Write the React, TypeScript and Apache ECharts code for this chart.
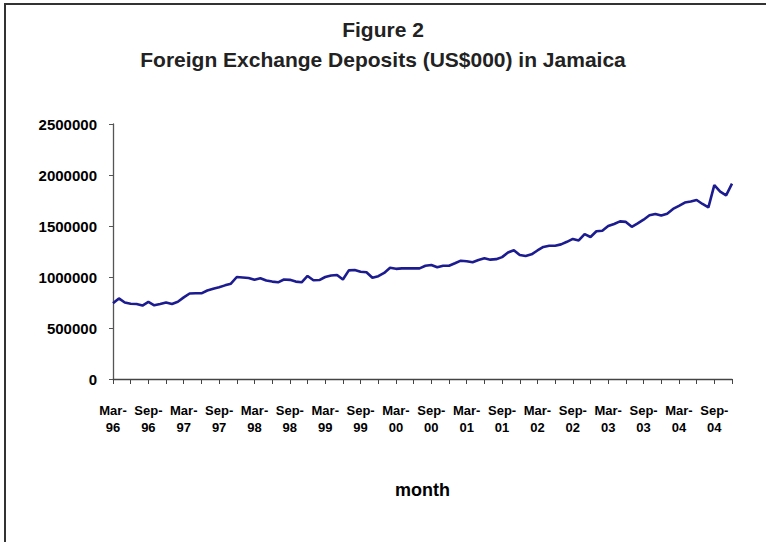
import React, { useEffect, useRef } from "react";
import * as echarts from "echarts";

const monthNames = ["Mar", "Apr", "May", "Jun", "Jul", "Aug", "Sep", "Oct", "Nov", "Dec", "Jan", "Feb"];
const startYear = 1996;
const monthCount = 106; // Mar-96 .. Dec-04

const categories: string[] = [];
for (let i = 0; i < monthCount; i++) {
  const m = monthNames[i % 12];
  const yr = startYear + Math.floor((i + 2) / 12);
  categories.push(m + "-\n" + String(yr % 100).padStart(2, "0"));
}

// Foreign exchange deposits, US$000
const deposits: number[] = [
  742000, 790000, 750000, 738000, 735000, 720000, 756000, 722000, 735000, 750000,
  736000, 757000, 800000, 838000, 840000, 840000, 868000, 885000, 899000, 918000,
  935000, 1000000, 995000, 990000, 973000, 987000, 965000, 955000, 948000, 975000,
  972000, 955000, 948000, 1010000, 968000, 970000, 1000000, 1015000, 1020000, 975000,
  1065000, 1069000, 1052000, 1046000, 992000, 1008000, 1040000, 1090000, 1080000, 1085000,
  1085000, 1085000, 1085000, 1110000, 1118000, 1095000, 1110000, 1111000, 1135000, 1160000,
  1155000, 1145000, 1167000, 1183000, 1170000, 1175000, 1195000, 1240000, 1262000, 1215000,
  1206000, 1222000, 1260000, 1295000, 1307000, 1307000, 1320000, 1345000, 1373000, 1358000,
  1420000, 1392000, 1448000, 1454000, 1500000, 1520000, 1545000, 1540000, 1492000, 1525000,
  1562000, 1605000, 1618000, 1602000, 1620000, 1667000, 1697000, 1730000, 1740000, 1755000,
  1716000, 1683000, 1900000, 1836000, 1800000, 1915000,
];

const titleLines = ["Figure 2", "Foreign Exchange Deposits (US$000) in Jamaica"];
const xAxisName = "month";

const labelFont = "'Liberation Sans', Arial, sans-serif";

export default function App() {
  const ref = useRef<HTMLDivElement>(null);
  useEffect(() => {
    if (!ref.current) return;
    const chart = echarts.init(ref.current, null, { renderer: "svg" });
    chart.setOption({
      animation: false,
      backgroundColor: "#ffffff",
      title: {
        text: titleLines.join("\n"),
        left: "center",
        top: 9,
        textStyle: {
          fontFamily: "'Liberation Sans', Arial, sans-serif",
          fontWeight: "bold",
          fontSize: 21,
          lineHeight: 30,
          color: "#222",
        },
      },
      graphic: [
        { type: "line", shape: { x1: 5, y1: 4, x2: 5, y2: 542 }, style: { stroke: "#333", lineWidth: 2 } },
        { type: "line", shape: { x1: 4, y1: 4, x2: 766, y2: 4 }, style: { stroke: "#333", lineWidth: 2 } },
      ],
      grid: { left: 113, right: 34, top: 124, bottom: 163, containLabel: false },
      xAxis: {
        type: "category",
        data: categories,
        boundaryGap: false,
        name: xAxisName,
        nameLocation: "middle",
        nameGap: 102,
        nameTextStyle: { fontFamily: labelFont, fontWeight: "bold", fontSize: 18, color: "#000" },
        axisLine: { lineStyle: { color: "#444", width: 1.3 } },
        axisTick: { interval: 2, length: 5, lineStyle: { color: "#444" } },
        axisLabel: {
          interval: 5,
          margin: 23,
          fontFamily: labelFont,
          fontWeight: "bold",
          fontSize: 13,
          lineHeight: 17,
          color: "#000",
        },
        splitLine: { show: false },
      },
      yAxis: {
        type: "value",
        min: 0,
        max: 2500000,
        interval: 500000,
        axisLine: { show: true, lineStyle: { color: "#555", width: 1.3 } },
        axisTick: { show: true, length: 4, lineStyle: { color: "#555" } },
        axisLabel: {
          margin: 16,
          fontFamily: labelFont,
          fontWeight: "bold",
          fontSize: 15,
          color: "#000",
          formatter: (v: number) => String(v),
        },
        splitLine: { show: false },
      },
      series: [
        {
          type: "line",
          data: deposits,
          showSymbol: false,
          lineStyle: { color: "#1c1c90", width: 2.6 },
        },
      ],
    });
    return () => chart.dispose();
  }, []);
  return (
    <div
      ref={ref}
      style={{ position: "fixed", left: 0, top: 0, width: 766, height: 542 }}
    />
  );
}
